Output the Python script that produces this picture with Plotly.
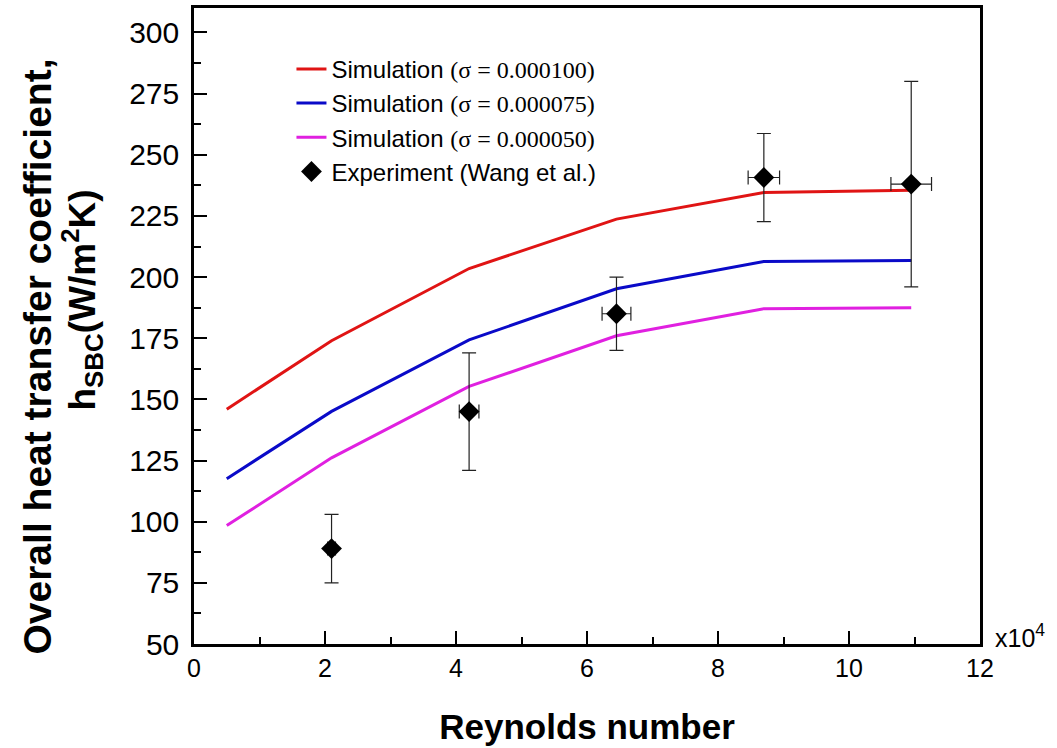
import plotly.graph_objects as go

# ---- data (Reynolds number in units of 1e4) ----
re_sim = [0.5, 2.1, 4.2, 6.45, 8.7, 10.95]
h_sigma_100 = [146.0, 174.0, 203.5, 223.7, 234.6, 235.5]
h_sigma_075 = [117.6, 145.1, 174.3, 195.2, 206.4, 206.8]
h_sigma_050 = [98.4, 126.1, 155.3, 176.0, 187.1, 187.5]

re_exp = [2.1, 4.2, 6.45, 8.7, 10.95]
h_exp = [89.0, 145.0, 185.0, 240.7, 238.0]
h_err = [14.0, 24.0, 15.0, 18.0, 42.0]
re_err = [0.06, 0.15, 0.22, 0.24, 0.31]

x_ticks = [0, 2, 4, 6, 8, 10, 12]
y_ticks = [50, 75, 100, 125, 150, 175, 200, 225, 250, 275, 300]


def serif(s):
    return "<span style=\"font-family:Liberation Serif\">" + s + "</span>"


names = [
    "Simulation " + serif("(σ = 0.000100)"),
    "Simulation " + serif("(σ = 0.000075)"),
    "Simulation " + serif("(σ = 0.000050)"),
    "Experiment (Wang et al.)",
]
colors = ["#E01414", "#0A0AC8", "#E020E0"]

SANS = "Liberation Sans, Arial, sans-serif"

fig = go.Figure()
for i, (ys, c) in enumerate(zip([h_sigma_100, h_sigma_075, h_sigma_050], colors)):
    fig.add_trace(go.Scatter(
        x=re_sim, y=ys, mode="lines", name=names[i],
        line=dict(color=c, width=3),
    ))

fig.add_trace(go.Scatter(
    x=re_exp, y=h_exp, mode="markers", name=names[3],
    marker=dict(symbol="diamond", size=16, color="black"),
    error_y=dict(type="data", array=h_err, color="#222222", thickness=1.2, width=7),
    error_x=dict(type="data", array=re_err, color="#222222", thickness=1.2, width=7),
))

fig.update_xaxes(
    range=[0, 12], tickvals=x_ticks, ticktext=[str(v) for v in x_ticks],
    ticks="inside", ticklen=13, tickwidth=2, tickcolor="black",
    minor=dict(dtick=1, ticks="inside", ticklen=7, tickwidth=2, tickcolor="black"),
    showline=True, linecolor="black", linewidth=2.5, mirror=True,
    showgrid=False, zeroline=False,
    tickfont=dict(family=SANS, size=25, color="black"),
    title=dict(text="<b>Reynolds number</b>",
               font=dict(family=SANS, size=35, color="black"),
               standoff=34),
)
fig.update_yaxes(
    range=[50, 310], tickvals=y_ticks, ticktext=[str(v) for v in y_ticks],
    ticks="inside", ticklen=13, tickwidth=2, tickcolor="black",
    minor=dict(dtick=12.5, ticks="inside", ticklen=7, tickwidth=2, tickcolor="black"),
    showline=True, linecolor="black", linewidth=2.5, mirror=True,
    showgrid=False, zeroline=False,
    tickfont=dict(family=SANS, size=30, color="black"), ticklabelstandoff=6,
)

# y-axis title, two lines
fig.add_annotation(
    text="<b>Overall heat transfer coefficient,</b>",
    xref="paper", yref="paper", x=(38 - 194) / 786, y=0.452,
    xanchor="center", yanchor="middle", textangle=-90, showarrow=False,
    font=dict(family=SANS, size=39, color="black"),
)
fig.add_annotation(
    text="<b>h<sub>SBC</sub>(W/m<sup>2</sup>K)</b>",
    xref="paper", yref="paper", x=(82 - 194) / 786, y=0.54,
    xanchor="center", yanchor="middle", textangle=-90, showarrow=False,
    font=dict(family=SANS, size=37, color="black"),
)
fig.add_annotation(
    text="x10<sup>4</sup>", xref="paper", yref="paper", x=(993 - 194) / 786, y=0.0125,
    xanchor="left", yanchor="middle", showarrow=False,
    font=dict(family=SANS, size=25, color="black"),
)

fig.update_layout(
    width=1057, height=748,
    margin=dict(l=194, r=77, t=5, b=104),
    plot_bgcolor="white", paper_bgcolor="white",
    showlegend=True,
    legend=dict(
        x=0.124, y=0.939, xanchor="left", yanchor="top",
        bgcolor="rgba(0,0,0,0)", borderwidth=0,
        font=dict(family=SANS, size=24, color="black"),
    ),
)

fig.write_html("out.html")
